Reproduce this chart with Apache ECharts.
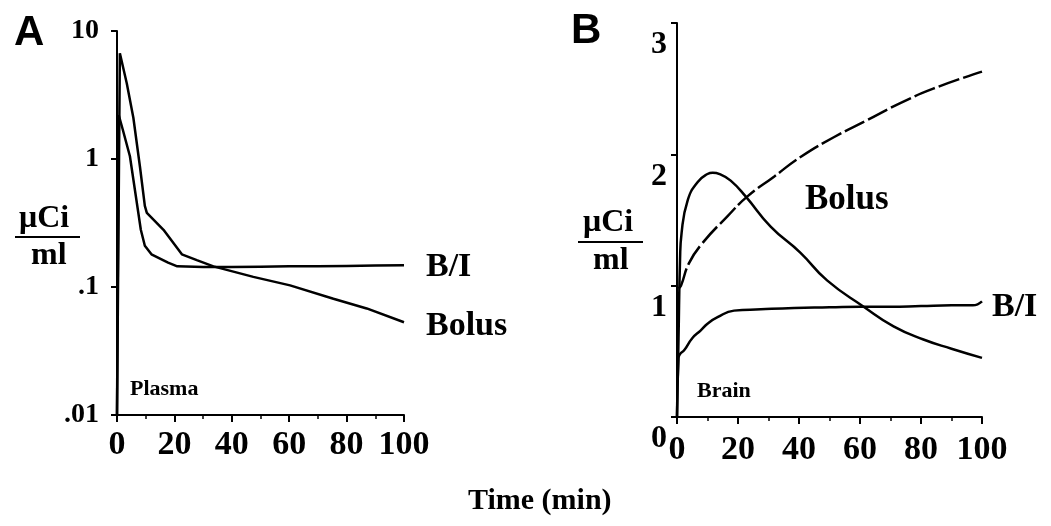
<!DOCTYPE html>
<html>
<head>
<meta charset="utf-8">
<script src="https://cdn.jsdelivr.net/npm/echarts@6/dist/echarts.min.js"></script>
<style>
  html, body { margin: 0; padding: 0; background: #fff; }
  #main { width: 1051px; height: 526px; }
</style>
</head>
<body>
<div id="main"></div>
<script>
// 数据：时间 (min) 与放射性浓度 (μCi/ml)
var xTicks = [0, 20, 40, 60, 80, 100];
var yTicksA = ['.01', '.1', '1', '10'];
var yTicksB = ['0', '1', '2', '3'];

// A: Plasma (log scale)
var plasmaBI = [[0, 0.01], [0.6, 2.2], [2, 1.7], [4.5, 1.05], [8.3, 0.28], [9.7, 0.21], [12, 0.18],
  [17.8, 0.155], [21, 0.145], [30, 0.143], [40, 0.143], [50, 0.144], [60, 0.145], [70, 0.145],
  [80, 0.146], [90, 0.147], [100, 0.148]];
var plasmaBolus = [[0, 0.01], [1, 6.7], [3.4, 3.9], [5.7, 2.1], [8, 0.87], [9.7, 0.43], [10.4, 0.38],
  [16.2, 0.28], [22.6, 0.18], [27.8, 0.162], [33.6, 0.145], [47.5, 0.12], [60.3, 0.103],
  [75.4, 0.081], [87, 0.068], [100, 0.053]];

// B: Brain (linear scale)
var brainBolus = [[0, 0], [0.5, 0.6], [1, 1.2], [1.5, 1.4], [3.5, 1.65], [6.8, 1.79], [10, 1.85],
  [11.7, 1.86], [14, 1.85], [17.6, 1.8], [22.5, 1.68], [30.7, 1.45], [40.5, 1.25], [49.2, 1.04],
  [61.2, 0.84], [71, 0.69], [80.8, 0.59], [90, 0.52], [100, 0.45]];
var brainBI = [[0, 0], [0.5, 0.45], [1, 0.48], [2.4, 0.51], [5, 0.6], [7.8, 0.66], [10, 0.71],
  [13.3, 0.76], [18.7, 0.81], [27.5, 0.82], [38.4, 0.83], [50, 0.835], [60, 0.84], [70, 0.84],
  [80, 0.845], [90, 0.85], [97, 0.85], [100, 0.88]];
var brainRising = [[0.5, 0.98], [1.3, 1.0], [3.9, 1.17], [8.2, 1.32], [16.6, 1.53], [23.1, 1.68],
  [31.8, 1.83], [40.5, 1.98], [51.4, 2.13], [62.3, 2.26], [73.2, 2.39], [84, 2.5], [100, 2.63]];

var myChart = echarts.init(document.getElementById('main'));

var serif = 'Liberation Serif';
var black = '#000';

function xAxisCfg(grid, margin) {
  return {
    type: 'value', gridIndex: grid, min: 0, max: 100, interval: 20,
    axisLine: { lineStyle: { color: black, width: 2 } },
    axisTick: { length: 7, lineStyle: { color: black, width: 2 } },
    minorTick: { show: true, splitNumber: 2, length: 4, lineStyle: { color: black, width: 1.5 } },
    splitLine: { show: false },
    axisLabel: {
      margin: margin, color: black, fontFamily: serif, fontWeight: 'bold', fontSize: 34,
      formatter: function (v) { return xTicks.indexOf(v) >= 0 ? String(v) : ''; }
    }
  };
}

function lineSeries(name, data, xi, yi, smooth, endLabel, dash) {
  var s = {
    name: name, type: 'line', xAxisIndex: xi, yAxisIndex: yi, data: data,
    showSymbol: false, smooth: smooth, silent: true,
    lineStyle: { color: black, width: 2.5, type: dash || 'solid' }
  };
  if (endLabel) {
    s.endLabel = {
      show: true, formatter: name, distance: 22, offset: endLabel,
      color: black, fontFamily: serif, fontWeight: 'bold', fontSize: 34
    };
  }
  return s;
}

var textStyle = function (txt, size, family) {
  return { text: txt, fill: black, font: 'bold ' + size + 'px "' + (family || serif) + '"' };
};

option = {
  animation: false,
  backgroundColor: '#fff',
  grid: [
    { left: 117, top: 31, width: 287, height: 384 },
    { left: 677, top: 23, width: 305, height: 394 }
  ],
  xAxis: [xAxisCfg(0, 13), xAxisCfg(1, 16)],
  yAxis: [
    {
      type: 'log', logBase: 10, gridIndex: 0, min: 0.01, max: 10,
      axisLine: { show: true, lineStyle: { color: black, width: 2 } },
      axisTick: { show: true, length: 6, lineStyle: { color: black, width: 2 } },
      splitLine: { show: false },
      axisLabel: {
        margin: 18, color: black, fontFamily: serif, fontWeight: 'bold', fontSize: 28,
        formatter: function (v, i) { return yTicksA[i]; }
      }
    },
    {
      type: 'value', gridIndex: 1, min: 0, max: 3, interval: 1,
      axisLine: { show: true, lineStyle: { color: black, width: 2 } },
      axisTick: { show: true, length: 6, lineStyle: { color: black, width: 2 } },
      splitLine: { show: false },
      axisLabel: {
        margin: 10, color: black, fontFamily: serif, fontWeight: 'bold', fontSize: 32,
        verticalAlign: 'top', padding: [6, 0, 0, 0],
        formatter: function (v, i) { return yTicksB[i]; }
      }
    }
  ],
  series: [
    lineSeries('B/I', plasmaBI, 0, 0, false, [0, 2]),
    lineSeries('Bolus', plasmaBolus, 0, 0, false, [0, 4]),
    lineSeries('Bolus', brainBolus, 1, 1, 0.5, null),
    lineSeries('B/I', brainBI, 1, 1, 0.5, [-12, 6]),
    lineSeries('Rising', brainRising, 1, 1, 0.5, null, [22, 4])
  ],
  graphic: [
    { type: 'text', left: 14, top: 12, style: textStyle('A', 42, 'Liberation Sans') },
    { type: 'text', left: 571, top: 10, style: textStyle('B', 42, 'Liberation Sans') },
    // μCi / ml
    { type: 'text', left: 19, top: 203, style: textStyle('μCi', 32) },
    { type: 'line', shape: { x1: 15, y1: 237, x2: 80, y2: 237 }, style: { stroke: black, lineWidth: 2 } },
    { type: 'text', left: 31, top: 240, style: textStyle('ml', 32) },
    { type: 'text', left: 583, top: 207, style: textStyle('μCi', 32) },
    { type: 'line', shape: { x1: 578, y1: 242, x2: 643, y2: 242 }, style: { stroke: black, lineWidth: 2 } },
    { type: 'text', left: 593, top: 245, style: textStyle('ml', 32) },
    // panel notes
    { type: 'text', left: 130, top: 378, style: textStyle('Plasma', 22) },
    { type: 'text', left: 697, top: 380, style: textStyle('Brain', 22) },
    { type: 'text', left: 805, top: 182, style: textStyle('Bolus', 35) },
    { type: 'text', left: 468, top: 486, style: textStyle('Time (min)', 30) }
  ]
};

myChart.setOption(option);
</script>
</body>
</html>
